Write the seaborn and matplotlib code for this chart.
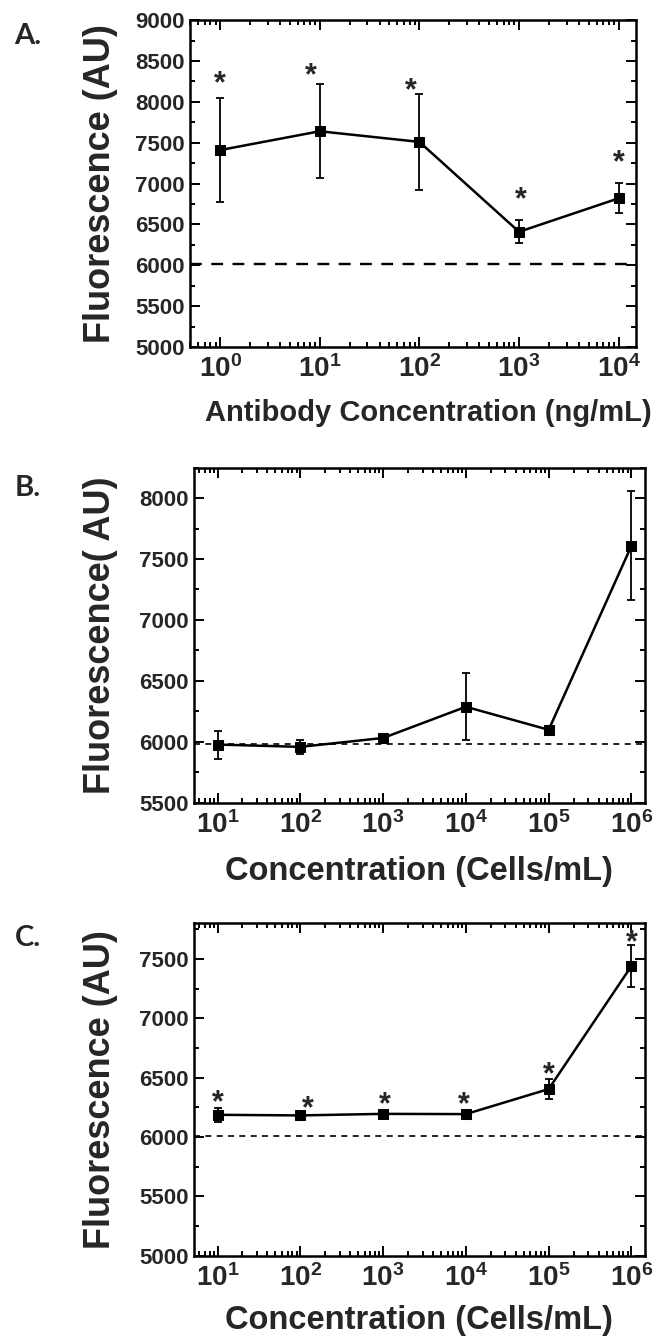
import numpy as np
import pandas as pd
import matplotlib
matplotlib.use("Agg")
import matplotlib.pyplot as plt
import seaborn as sns
from matplotlib.ticker import LogLocator, MultipleLocator, FuncFormatter, NullFormatter

sns.set_theme(style="ticks")
plt.rcParams["font.family"] = ["Liberation Sans", "DejaVu Sans"]
plt.rcParams["font.weight"] = "bold"
plt.rcParams["mathtext.fontset"] = "custom"
plt.rcParams["mathtext.bf"] = "Liberation Sans:bold"
plt.rcParams["mathtext.rm"] = "Liberation Sans:bold"

# Panel A: antibody concentration
antibody_conc = [1, 10, 100, 1000, 10000]
antibody_fluor = [7410, 7640, 7510, 6410, 6820]
antibody_err = [635, 577, 583, 140, 184]
antibody_star_x = [1, 8.1, 82, 1050, 10000]
antibody_star_y = [8285, 8378, 8198, 6866, 7320]
antibody_baseline = 6015

# Panel B: cells
cells_conc = [10, 100, 1000, 1e4, 1e5, 1e6]
cells_b_fluor = [5977, 5958, 6031, 6287, 6098, 7609]
cells_b_err = [115, 60, 15, 276, 15, 449]
cells_b_baseline = 5985

# Panel C: cells
cells_c_fluor = [6186, 6181, 6194, 6192, 6403, 7440]
cells_c_err = [60, 10, 10, 15, 85, 175]
cells_c_star_x = [10, 123, 1050, 9500, 1e5, 1e6]
cells_c_star_y = [6328, 6278, 6311, 6314, 6564, 7680]
cells_c_baseline = 6005

STAR_SIZE = 22


def log_label(v, pos):
    return r"$\mathbf{10^{%d}}$" % int(round(np.log10(v)))


def style_axis(ax, xlim, ylim):
    ax.set_xlim(*xlim)
    ax.set_ylim(*ylim)
    ax.yaxis.set_major_locator(MultipleLocator(500))
    ax.yaxis.set_minor_locator(MultipleLocator(250))
    ax.xaxis.set_major_locator(LogLocator(base=10, numticks=20))
    ax.xaxis.set_minor_locator(LogLocator(base=10, subs=np.arange(2, 10), numticks=20))
    ax.xaxis.set_minor_formatter(NullFormatter())
    ax.xaxis.set_major_formatter(FuncFormatter(log_label))
    ax.tick_params(which="both", direction="in", top=True, right=True,
                   width=1.4, color="black")
    ax.tick_params(which="major", length=7)
    ax.tick_params(which="minor", length=3.5)
    ax.tick_params(axis="y", labelsize=16, pad=4)
    ax.tick_params(axis="x", labelsize=20, pad=6)
    for s in ax.spines.values():
        s.set_linewidth(1.8)
        s.set_color("black")


def draw_series(ax, x, y, err):
    df = pd.DataFrame({"conc": x, "fluor": y})
    sns.lineplot(data=df, x="conc", y="fluor", ax=ax, color="black",
                 marker="s", markersize=6.5, markeredgecolor="black",
                 linewidth=1.8)
    ax.errorbar(x, y, yerr=err, fmt="none", ecolor="black",
                elinewidth=1.3, capsize=3, capthick=1.3)


def draw_stars(ax, xs, ys):
    # shift the baseline down so the '*' glyph is centred on the point
    for sx, sy in zip(xs, ys):
        ax.annotate("*", (sx, sy), xytext=(0, -0.45 * STAR_SIZE),
                    textcoords="offset points", ha="center", va="baseline",
                    fontsize=STAR_SIZE, fontweight="bold")


fig = plt.figure(figsize=(6.6, 13.4), dpi=100)
ax_a = fig.add_axes([0.288, 0.741, 0.676, 0.244])
ax_b = fig.add_axes([0.294, 0.401, 0.683, 0.250])
ax_c = fig.add_axes([0.294, 0.063, 0.683, 0.248])

for ax in (ax_a, ax_b, ax_c):
    ax.set_xscale("log")

# A
draw_series(ax_a, antibody_conc, antibody_fluor, antibody_err)
ax_a.axhline(antibody_baseline, color="black", lw=1.7, dashes=(5, 4))
draw_stars(ax_a, antibody_star_x, antibody_star_y)
style_axis(ax_a, (0.5, 15000), (5000, 9000))
ax_a.set_xlabel("Antibody Concentration (ng/mL)", fontsize=21, fontweight="bold")
ax_a.set_ylabel("Fluorescence (AU)", fontsize=26, fontweight="bold")
ax_a.xaxis.set_label_coords(0.535, -0.16)
ax_a.yaxis.set_label_coords(-0.161, 0.5)

# B
draw_series(ax_b, cells_conc, cells_b_fluor, cells_b_err)
ax_b.axhline(cells_b_baseline, color="black", lw=1.2, dashes=(3.6, 3.2))
style_axis(ax_b, (5.2, 1.45e6), (5500, 8250))
ax_b.set_xlabel("Concentration (Cells/mL)", fontsize=23.5, fontweight="bold")
ax_b.set_ylabel("Fluorescence( AU)", fontsize=26, fontweight="bold")
ax_b.xaxis.set_label_coords(0.5, -0.16)
ax_b.yaxis.set_label_coords(-0.169, 0.5)

# C
draw_series(ax_c, cells_conc, cells_c_fluor, cells_c_err)
ax_c.axhline(cells_c_baseline, color="black", lw=1.2, dashes=(3.6, 3.2))
draw_stars(ax_c, cells_c_star_x, cells_c_star_y)
style_axis(ax_c, (5.2, 1.45e6), (5000, 7800))
ax_c.set_xlabel("Concentration (Cells/mL)", fontsize=23.5, fontweight="bold")
ax_c.set_ylabel("Fluorescence (AU)", fontsize=26, fontweight="bold")
ax_c.xaxis.set_label_coords(0.5, -0.15)
ax_c.yaxis.set_label_coords(-0.169, 0.5)

# panel letters
for label, ypix in (("A.", 36), ("B.", 488), ("C.", 938)):
    fig.text(28 / 660, 1 - ypix / 1340, label, ha="center", va="center",
             fontsize=21, fontweight="bold", family=["Lato", "DejaVu Sans"])

fig.savefig("out.png", dpi=100)
